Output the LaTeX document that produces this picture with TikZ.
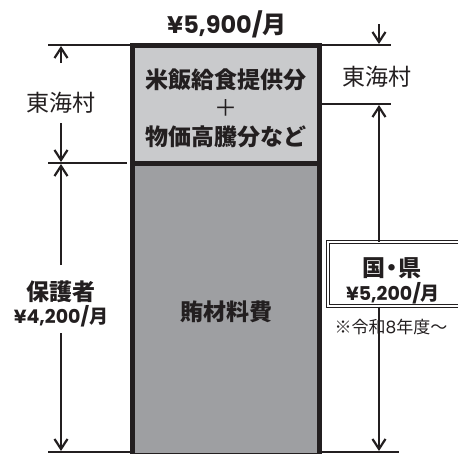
\documentclass[tikz,border=0pt]{standalone}
\usepackage{fontspec}
\setmainfont{Noto Sans CJK JP}
\newfontfamily\numfont{Poppins}
\usetikzlibrary{arrows.meta}
\definecolor{ink}{RGB}{35,31,32}
\definecolor{lightfill}{RGB}{201,202,204}
\definecolor{darkfill}{RGB}{158,159,162}
\tikzset{
  thinline/.style={draw=ink, line width=1.4pt},
  dimarrow/.style={draw=ink, line width=2.2pt, -{Straight Barb[length=10pt,width=13pt,line width=2.2pt]}},
  barborder/.style={draw=ink, line width=5pt},
  bigbold/.style={font=\fontsize{23}{26}\selectfont\bfseries, text=ink, inner sep=0pt},
  amount/.style={font=\fontsize{19}{22}\selectfont\bfseries, text=ink, inner sep=0pt},
  biglabel/.style={font=\fontsize{23}{26}\selectfont, text=ink, inner sep=0pt},
  smalllabel/.style={font=\fontsize{17}{20}\selectfont, text=ink, inner sep=0pt},
}
\begin{document}
\begin{tikzpicture}[x=1pt,y=-1pt]
\useasboundingbox (0,0) rectangle (458,453);
% bar
\fill[lightfill] (132,45) rectangle (320,163);
\fill[darkfill] (132,163) rectangle (320,455);
\draw[barborder] (132.5,45.5) rectangle (319.5,455);
\draw[barborder] (132,163) -- (320,163);
% texts in bar
\node[bigbold] (rice) at (226,80) {米飯給食提供分};
\node[font=\fontsize{23}{26}\selectfont, text=ink, inner sep=0pt] (plus) at (226,108) {＋};
\node[bigbold] (price) at (226,137) {物価高騰分など};
\node[bigbold] (food) at (226,312) {賄材料費};
\node[text=ink, inner sep=0pt, font=\fontsize{24}{28}\selectfont\bfseries] (total) at (227,24) {{\numfont ¥5,900/}月};
% left dimension lines
\coordinate (lt1) at (48,45);  \coordinate (lt2) at (130,45);
\coordinate (lm1) at (48,163); \coordinate (lm2) at (127,163);
\coordinate (lb1) at (48,452); \coordinate (lb2) at (130,452);
\draw[thinline] (lt1) -- (lt2);
\draw[thinline] (lm1) -- (lm2);
\draw[thinline] (lb1) -- (lb2);
\node[biglabel] (vil1) at (61,103) {東海村};
\coordinate (a1s) at (61,63);  \coordinate (a1e) at (61,46);
\coordinate (a2s) at (61,123); \coordinate (a2e) at (61,162);
\draw[dimarrow] (a1s) -- (a1e);
\draw[dimarrow] (a2s) -- (a2e);
\node[bigbold] (guard) at (61,292) {保護者};
\node[amount] (guardamt) at (61,316) {{\numfont ¥4,200/}月};
\coordinate (a3s) at (61,265); \coordinate (a3e) at (61,164);
\coordinate (a4s) at (61,333); \coordinate (a4e) at (61,451);
\draw[dimarrow] (a3s) -- (a3e);
\draw[dimarrow] (a4s) -- (a4e);
% right dimension lines
\coordinate (rt1) at (322,45);  \coordinate (rt2) at (391,45);
\coordinate (rm1) at (322,104); \coordinate (rm2) at (391,104);
\coordinate (rb1) at (322,452); \coordinate (rb2) at (399,452);
\draw[thinline] (rt1) -- (rt2);
\draw[thinline] (rm1) -- (rm2);
\draw[thinline] (rb1) -- (rb2);
\node[biglabel] (vil2) at (377,77) {東海村};
\coordinate (a5s) at (379,24); \coordinate (a5e) at (379,44);
\draw[dimarrow] (a5s) -- (a5e);
% box
\node[draw=ink, line width=1.2pt, double=white, double distance=2.2pt, fill=white,
      minimum width=136pt, minimum height=64pt, anchor=north west, inner sep=0pt] (govbox) at (327.5,241.5) {};
\coordinate (a6e) at (379,105);
\coordinate (a7e) at (379,451);
\draw[dimarrow] (govbox.north -| a6e) -- (a6e);
\draw[dimarrow] (govbox.south -| a7e) -- (a7e);
\node[bigbold] (gov) at (392,268) {国\kern-5pt・\kern-5pt県};
\node[amount] (govamt) at (393,293) {{\numfont ¥5,200/}月};
\node[smalllabel] (note) at (391,327) {※令和{\numfont 8}年度～};
\end{tikzpicture}
\end{document}
